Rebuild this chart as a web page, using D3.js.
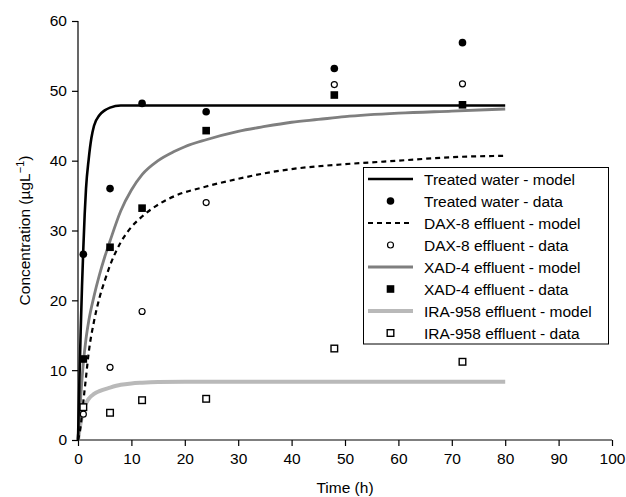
<!DOCTYPE html>
<html>
<head>
<meta charset="utf-8">
<script src="https://cdn.jsdelivr.net/npm/d3@7"></script>
<style>
  html, body { margin: 0; padding: 0; background: #fff; }
  svg { display: block; font-family: "Liberation Sans", Arial, sans-serif; }
</style>
</head>
<body>
<svg id="chart" width="626" height="497"></svg>
<script>
// ---- Data ----
const dataTimes = [1, 6, 12, 24, 48, 72];
const treatedData = [26.6, 36.0, 48.2, 47.0, 53.2, 56.9];
const daxData     = [3.7, 10.4, 18.4, 34.0, 50.9, 51.0];
const xadData     = [11.6, 27.6, 33.2, 44.3, 49.4, 48.0];
const iraData     = [4.7, 3.9, 5.7, 5.9, 13.1, 11.2];

const treatedModelT = [0, 0.25, 0.5, 0.75, 1, 1.25, 1.5, 2, 2.5, 3, 4, 5, 6, 8, 80];
const treatedModelY = [0, 8, 15.5, 22, 27.5, 32.3, 36, 40.2, 43.2, 45, 46.5, 47.2, 47.6, 47.9, 47.9];

const daxModelT = [0, 0.5, 1, 1.5, 2, 3, 4, 5, 6, 8, 10, 12, 15, 18, 24, 30, 35, 40, 45, 50, 60, 70, 80];
const daxModelY = [0, 2, 5.5, 9, 12.5, 17, 20.3, 22.8, 25, 28.3, 30.5, 32, 33.7, 34.9, 36.3, 37.4, 38.2, 38.8, 39.2, 39.5, 40.0, 40.5, 40.7];

const xadModelT = [0, 0.5, 1, 1.5, 2, 3, 4, 5, 6, 8, 10, 12, 15, 18, 20, 24, 30, 35, 40, 45, 50, 60, 70, 80];
const xadModelY = [0, 6, 11, 14.5, 17, 20.6, 23.6, 26.2, 28.5, 32.8, 35.8, 38, 40, 41.3, 42, 43, 44.2, 44.9, 45.5, 45.9, 46.3, 46.8, 47.1, 47.4];

const iraModelT = [0, 0.5, 1, 2, 3, 4, 6, 8, 10, 12, 15, 20, 80];
const iraModelY = [0, 2.5, 4.3, 5.9, 6.6, 7.0, 7.5, 7.9, 8.1, 8.2, 8.3, 8.35, 8.35];

const xTicks = [0, 10, 20, 30, 40, 50, 60, 70, 80, 90, 100];
const yTicks = [0, 10, 20, 30, 40, 50, 60];

const legendLabels = [
  "Treated water - model", "Treated water - data",
  "DAX-8 effluent - model", "DAX-8 effluent - data",
  "XAD-4 effluent - model", "XAD-4 effluent - data",
  "IRA-958 effluent - model", "IRA-958 effluent - data"
];

// ---- Layout ----
const svg = d3.select("#chart");
const x = d3.scaleLinear().domain([0, 100]).range([78, 612]);
const y = d3.scaleLinear().domain([0, 60]).range([440, 21]);

// Axes
const xAxis = svg.append("g").attr("transform", "translate(0,440)")
  .call(d3.axisBottom(x).tickValues(xTicks).tickSize(6).tickPadding(7).tickFormat(d3.format("d")));
const yAxis = svg.append("g").attr("transform", "translate(78,0)")
  .call(d3.axisLeft(y).tickValues(yTicks).tickSize(6).tickPadding(5).tickFormat(d3.format("d")));
[xAxis, yAxis].forEach(g => {
  g.select(".domain").attr("stroke", "#000").attr("stroke-width", 1.2);
  g.selectAll(".tick line").attr("stroke", "#000").attr("stroke-width", 1.2);
  g.selectAll(".tick text").attr("fill", "#000").style("font-size", "15.5px")
    .style("font-family", "'Liberation Sans', Arial, sans-serif");
});
xAxis.select(".domain").attr("d", `M${x(0)},0H${x(100)}`);
yAxis.select(".domain").attr("d", `M0,${y(0)}V${y(60)}`);

// Axis titles
svg.append("text").attr("x", (x(0) + x(100)) / 2).attr("y", 493)
  .attr("text-anchor", "middle").style("font-size", "15.5px").text("Time (h)");
const yt = svg.append("text")
  .attr("transform", `translate(30,${(y(0) + y(60)) / 2}) rotate(-90)`)
  .attr("text-anchor", "middle").style("font-size", "15.5px");
yt.append("tspan").text("Concentration (\u00B5gL");
yt.append("tspan").attr("dy", -6).style("font-size", "11px").text("\u22121");
yt.append("tspan").attr("dy", 6).text(")");

// ---- Lines ----
const lineGen = d3.line().x(d => x(d[0])).y(d => y(d[1])).curve(d3.curveMonotoneX);
const zip = (a, b) => a.map((v, i) => [v, b[i]]);

const styles = {
  treated: { stroke: "#000", width: 2.6, dash: null },
  dax:     { stroke: "#000", width: 2.2, dash: "5,4" },
  xad:     { stroke: "#7f7f7f", width: 2.8, dash: null },
  ira:     { stroke: "#b9b9b9", width: 4, dash: null }
};

function drawLine(T, Y, st) {
  svg.append("path").datum(zip(T, Y)).attr("d", lineGen)
    .attr("fill", "none").attr("stroke", st.stroke).attr("stroke-width", st.width)
    .attr("stroke-dasharray", st.dash);
}
drawLine(iraModelT, iraModelY, styles.ira);
drawLine(xadModelT, xadModelY, styles.xad);
drawLine(daxModelT, daxModelY, styles.dax);
drawLine(treatedModelT, treatedModelY, styles.treated);

// ---- Markers ----
function marker(g, type, cx, cy) {
  if (type === "fcircle") g.append("circle").attr("cx", cx).attr("cy", cy).attr("r", 3.8).attr("fill", "#000");
  else if (type === "ocircle") g.append("circle").attr("cx", cx).attr("cy", cy).attr("r", 3).attr("fill", "#fff").attr("stroke", "#000").attr("stroke-width", 1.2);
  else if (type === "fsquare") g.append("rect").attr("x", cx - 3.8).attr("y", cy - 3.8).attr("width", 7.6).attr("height", 7.6).attr("fill", "#000");
  else if (type === "osquare") g.append("rect").attr("x", cx - 3.3).attr("y", cy - 3.3).attr("width", 6.6).attr("height", 6.6).attr("fill", "#fff").attr("stroke", "#000").attr("stroke-width", 1.4);
}
const pts = svg.append("g");
[[iraData, "osquare"], [daxData, "ocircle"], [xadData, "fsquare"], [treatedData, "fcircle"]].forEach(([vals, type]) => {
  vals.forEach((v, i) => marker(pts, type, x(dataTimes[i]), y(v)));
});

// ---- Legend ----
const lg = svg.append("g");
lg.append("rect").attr("x", 363.5).attr("y", 167.5).attr("width", 245).attr("height", 176.5)
  .attr("fill", "#fff").attr("stroke", "#000").attr("stroke-width", 1);
const legendSyms = [
  ["line", styles.treated], ["mark", "fcircle"],
  ["line", styles.dax], ["mark", "ocircle"],
  ["line", styles.xad], ["mark", "fsquare"],
  ["line", styles.ira], ["mark", "osquare"]
];
legendLabels.forEach((lab, i) => {
  const cy = 179 + i * 22;
  const s = legendSyms[i];
  if (s[0] === "line") {
    lg.append("line").attr("x1", 368).attr("x2", 413).attr("y1", cy).attr("y2", cy)
      .attr("stroke", s[1].stroke).attr("stroke-width", s[1].width).attr("stroke-dasharray", s[1].dash);
  } else {
    marker(lg, s[1], 390.5, cy);
  }
  lg.append("text").attr("x", 424).attr("y", cy + 5.5).style("font-size", "15.5px").text(lab);
});
</script>
</body>
</html>
